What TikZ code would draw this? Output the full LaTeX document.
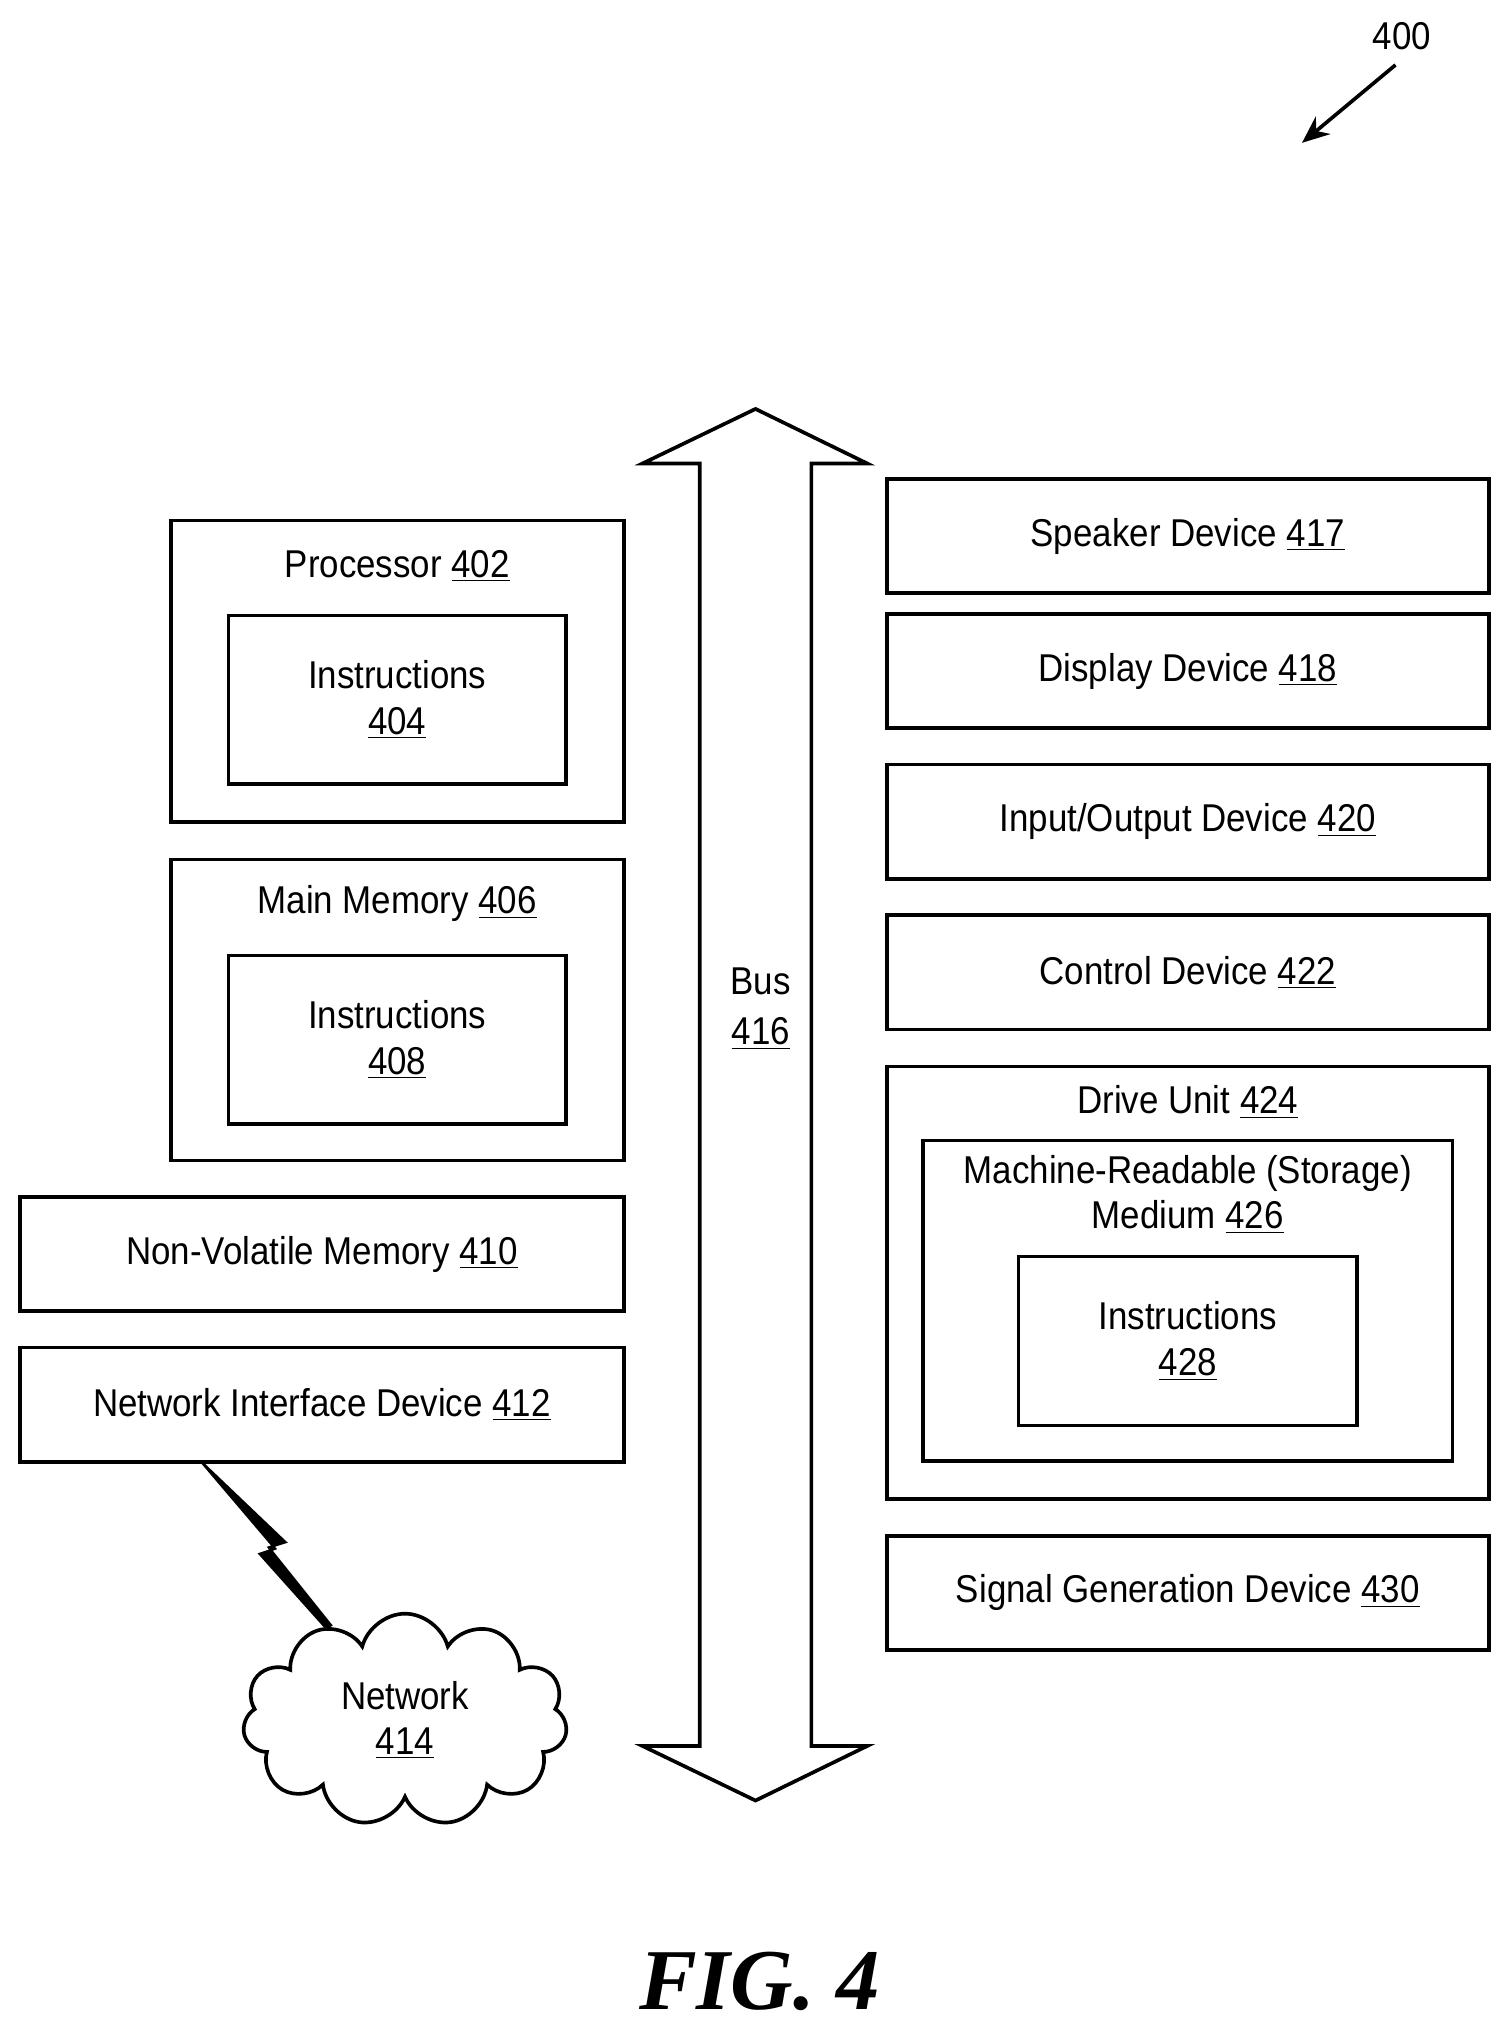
\documentclass[tikz,border=0pt]{standalone}
\usepackage{fontspec}
\setmainfont{Liberation Sans}[FakeStretch=0.9]
\newfontfamily\figfont{Liberation Serif}
\usetikzlibrary{shapes.symbols,arrows.meta}
\tikzset{
  box/.style={draw, line width=1.6pt, fill=white, align=center, font=\fontsize{17}{20}\selectfont, inner sep=0pt},
  lbl/.style={font=\fontsize{17}{20}\selectfont, align=center, inner sep=0pt},
}
\newcommand{\num}[1]{\underline{#1}}
\begin{document}
\begin{tikzpicture}[x=0.02cm, y=-0.02cm, line join=miter]
\useasboundingbox (0,0) rectangle (1160,1563);
% left column
\node[box, minimum width=6.98cm, minimum height=4.64cm] (proc) at (306,517) {};
\node[lbl] (proct) at (306,436) {Processor \num{402}};
\node[box, minimum width=5.2cm, minimum height=2.6cm] (ins1) at (306,539) {Instructions\\\num{404}};
\node[box, minimum width=6.98cm, minimum height=4.64cm] (mem) at (306,778) {};
\node[lbl] (memt) at (306,696) {Main Memory \num{406}};
\node[box, minimum width=5.2cm, minimum height=2.6cm] (ins2) at (306,801) {Instructions\\\num{408}};
\node[box, minimum width=9.3cm, minimum height=1.76cm] (nvm) at (248,966) {Non-Volatile Memory \num{410}};
\node[box, minimum width=9.3cm, minimum height=1.76cm] (nid) at (248,1082) {Network Interface Device \num{412}};
\node[cloud, cloud puffs=11, draw, line width=1.6pt, minimum width=5cm, minimum height=3cm, lbl] (net) at (312,1325) {Network\\\num{414}};
\draw[line width=1pt, fill=black] (155,1126) -- (220,1188) -- (207,1192) -- (255,1252) -- (251,1254) -- (200,1197) -- (212,1193) -- (155,1126);
% bus
\draw[line width=1.6pt] (539,1345) -- (539,357) -- (495,357) -- (582,315) -- (668,357) -- (625,357)
  -- (625,1345) -- (668,1345) -- (582,1387) -- (495,1345) -- cycle;
\node[lbl] (bus) at (586,777) {Bus\\[2pt]\num{416}};
% right column
\node[box, minimum width=9.28cm, minimum height=1.76cm] (spk) at (915,413) {Speaker Device \num{417}};
\node[box, minimum width=9.28cm, minimum height=1.76cm] (disp) at (915,517) {Display Device \num{418}};
\node[box, minimum width=9.28cm, minimum height=1.76cm] (io) at (915,633) {Input/Output Device \num{420}};
\node[box, minimum width=9.28cm, minimum height=1.76cm] (ctl) at (915,749) {Control Device \num{422}};
\node[box, minimum width=9.28cm, minimum height=6.66cm] (drv) at (915,988) {};
\node[lbl] (drvt) at (915,849) {Drive Unit \num{424}};
\node[box, minimum width=8.16cm, minimum height=4.94cm] (mrm) at (915,1002) {};
\node[lbl] (mrmt) at (915,920) {Machine-Readable (Storage)\\Medium \num{426}};
\node[box, minimum width=5.22cm, minimum height=2.6cm] (ins3) at (915,1033) {Instructions\\\num{428}};
\node[box, minimum width=9.28cm, minimum height=1.76cm] (sig) at (915,1227) {Signal Generation Device \num{430}};
% reference numeral
\node[lbl] (ref) at (1080,28) {400};
\coordinate (refe) at (1003,110);
\draw[line width=1.6pt, -{Stealth[length=12pt,width=10pt]}] (1075,50) -- (refe);
\node[font=\figfont\bfseries\itshape\fontsize{38}{42}\selectfont] (fig) at (585,1526) {FIG. 4};
\end{tikzpicture}
\end{document}
